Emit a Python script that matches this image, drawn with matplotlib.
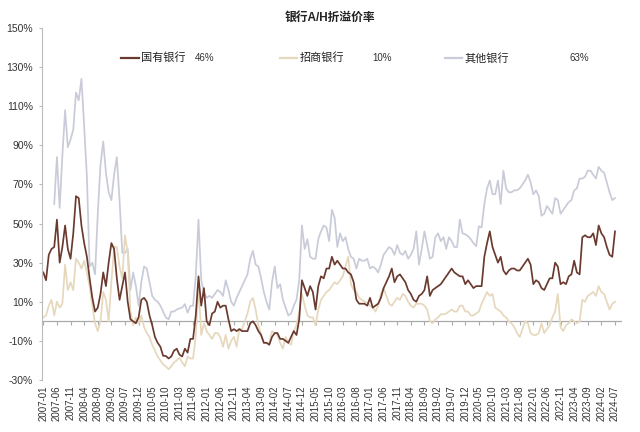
import numpy as np
import pandas as pd
import matplotlib
matplotlib.use("Agg")
import matplotlib.pyplot as plt

plt.rcParams['font.family'] = ['Liberation Sans', 'Noto Sans CJK SC', 'DejaVu Sans']

# monthly dates 2007-01 .. 2024-07
months = pd.date_range('2007-01-01', periods=211, freq='MS').strftime('%Y-%m').tolist()

# 国有银行 A/H premium (%)
state_banks = [
    25, 21, 34, 37, 38, 52, 30, 38, 49, 37, 32, 45, 64, 63, 49, 40, 33, 22, 12, 5,
    7, 14, 25, 18, 30, 40, 37, 22, 11, 18, 25, 10, 1, 0, -1, 2, 11, 12, 10, 3,
    -2, -8, -11, -13, -17.6, -17.7, -19, -18, -15, -14, -17, -18, -14, -16, -9, -9, 3, 23, 8, 17,
    0, -2, 4, 5, 10, 7, 8, 8, 1, -5, -4, -5, -4, -5, -5, -5, -1, 0, -2, -5,
    -7, -11, -11, -12, -8, -6, -6, -9, -9, -10, -11, -8, -5, -7, 1, 21, 17, 13, 18, 15,
    6, 18, 23, 22, 27, 27, 33, 29, 31, 29, 27, 27, 25, 24, 20, 11, 9, 9, 9, 8,
    12, 7, 8, 9, 12, 17, 20, 23, 27, 20, 23, 24, 22, 20, 16, 14, 11, 10, 13, 14,
    16, 23, 13, 16, 17, 18, 19, 21, 23, 25, 27, 25, 24, 23, 23, 19, 21, 19, 17, 18,
    18, 18, 33, 40, 46, 38, 34, 30, 33, 26, 24, 26, 27, 27, 26, 26, 28, 30, 32, 29,
    19, 21, 20, 17, 16, 19, 22, 22, 30, 28, 19, 20, 19, 23, 24, 31, 25, 24, 43, 44,
    43, 43, 45, 39, 49, 45, 43, 38, 34, 33, 46,
]

# 招商银行 A/H premium (%)
cmb = [
    2, 3, 8, 11, 3, 10, 7, 9, 29, 16, 20, 16, 32, 30, 27, 31, 25, 18, 8, -1,
    -5, 0, 15, 11, 0, 20, 38, 38, 28, 22, 44, 35, 5, -2, 2, -1, 3, -3, -6, -8,
    -12, -15, -18, -20, -22, -23, -24.5, -23, -21, -20, -18.6, -21, -23, -18, -19, -19, -7.5, 18, -7, -1,
    -5, -7, -9, -6, -6, -8, -13, -7, -14, -10, -8, -13, -4, -4, 0, 4, 10, 12, 6, -2,
    -7, -11, -11, -11, -5, -6, -7, -11, -14, -8, -11, -12, -5, -2, 5, 14, 8, 3, 2, 2,
    -2, 6, 11, 13, 15, 16, 18, 20, 19, 21, 23, 28, 33, 19, 16, 15, 12, 11, 10, 9.5,
    8, 7, 5, 8, 14, 17, 13, 9, 8, 10, 12, 11, 14, 13, 10, 8, 7, 9, 9, 9,
    8, 6, 0, -1, 1, 2, 3.6, 3.6, 4, 5, 6, 5, 5, 8, 8, 5, 5, 3, 3, 4,
    5, 9, 12, 15, 13, 14, 7, 6, 5, 3, 2, 0, -1, -3, -6, -8, -4, 0, -1, -6,
    -7, -7, -6, -1, -6, -4, -2, 2, 5, 14, -3, -5, -2, -1, 1, 0, -1, 0, 11, 10,
    13, 14, 15, 13, 18, 15, 14, 10, 6, 9, 10,
]

# 其他银行 A/H premium (%), series starts 2007-05
other_banks = [
    np.nan, np.nan, np.nan, np.nan, 60, 84, 58, 85, 108, 89, 93, 98, 117, 113, 124, 100, 74, 28, 30, 24,
    55, 80, 92, 76, 66, 62, 75, 84, 62, 35, 35, 37, 16, 25, 18, 8, 20, 28, 27, 20,
    13, 11, 10, 8, 5, 2, 1, 5, 5, 6, 6.6, 7, 8.8, 4.4, 7.8, 8, 23, 52, 21, 15,
    12, 13, 12, 14, 16, 15, 13, 21, 16, 10, 8, 12, 15, 18, 21, 24, 32, 36, 29, 28,
    22, 15, 10, 6, 20, 28, 17, 19, 11, 7, 3, 4, 8, 11, 21, 49, 37, 42, 33, 32,
    32, 42, 46, 49, 48, 41, 57, 53, 38, 45, 41, 43, 37, 33, 32, 27, 32, 31, 31, 32,
    27, 28, 27, 25, 29, 34, 36, 38, 37, 34, 39, 35, 34, 36, 32, 34, 37, 46, 29, 37,
    46, 39, 32, 33, 43, 45, 41, 43, 37, 43, 41, 38, 38, 52, 45, 44.5, 43.6, 42, 40, 38.4,
    48.6, 48, 60, 68, 72, 65, 65, 72, 60, 77, 68, 66, 66, 67, 67, 68, 70, 72, 75, 71,
    65, 67, 64, 54, 55, 59, 57, 55, 63, 62, 55, 57, 59, 61, 62, 67, 68, 73, 73, 74,
    77, 77, 75, 73, 79, 77, 76, 71, 66, 62, 63,
]

series_names = ['国有银行', '招商银行', '其他银行']
series_colors = ['#6b3a2f', '#e6d8bd', '#c9cbd8']

fig = plt.figure(figsize=(6.4, 4.32), dpi=100)
ax = fig.add_axes([0.066, 0.1204, 0.906, 0.8148])

x = np.arange(len(months))
data = [state_banks, cmb, other_banks]
for vals, col in zip(data[::-1], series_colors[::-1]):
    ax.plot(x, vals, color=col, linewidth=1.25)

ax.set_xlim(-0.4, 212.6)
ax.set_ylim(-30, 150)
ax.set_yticks(np.arange(-30, 151, 20))
ax.set_yticklabels([f"{v}%" for v in range(-30, 151, 20)], fontsize=7.5, color='#333333')
ax.tick_params(axis='y', length=2.5, direction='out', color='#bbbbbb', pad=4)

tick_idx = list(range(0, len(months), 5))
ax.set_xticks(tick_idx)
ax.set_xticklabels([months[i] for i in tick_idx], rotation=90, fontsize=7, color='#333333')
ax.tick_params(axis='x', length=0, pad=4)

for s in ['top', 'right', 'bottom']:
    ax.spines[s].set_visible(False)
ax.spines['left'].set_color('#bbbbbb')

# zero line with small ticks
ax.axhline(0, color='#aaaaaa', linewidth=0.9, zorder=0)
sec = ax.secondary_xaxis(30 / 180)
sec.set_xticks(tick_idx)
sec.set_xticklabels([])
sec.tick_params(axis='x', length=3, direction='out', color='#aaaaaa')
sec.spines['bottom'].set_visible(False)

# legend row with latest values
leg_y = 0.915
line_x = [0.1365, 0.4093, 0.6947]
pct_x = [0.2805, 0.5865, 0.9255]
for name, col, vals, lx, px in zip(series_names, series_colors, data, line_x, pct_x):
    ax.plot([lx, lx + 0.03], [leg_y, leg_y], transform=ax.transAxes, color=col,
            linewidth=1.6, clip_on=False)
    ax.text(lx + 0.034, leg_y, name, transform=ax.transAxes, fontsize=8,
            va='center', ha='left', color='#222222')
    ax.text(px, leg_y, f"{vals[-1]:.0f}%", transform=ax.transAxes, fontsize=7,
            va='center', ha='center', color='#333333')

fig.text(0.516, 0.958, '银行A/H折溢价率', ha='center', va='center', fontsize=8.5,
         fontweight='bold', color='#222222')

fig.savefig('out.png', dpi=100)
